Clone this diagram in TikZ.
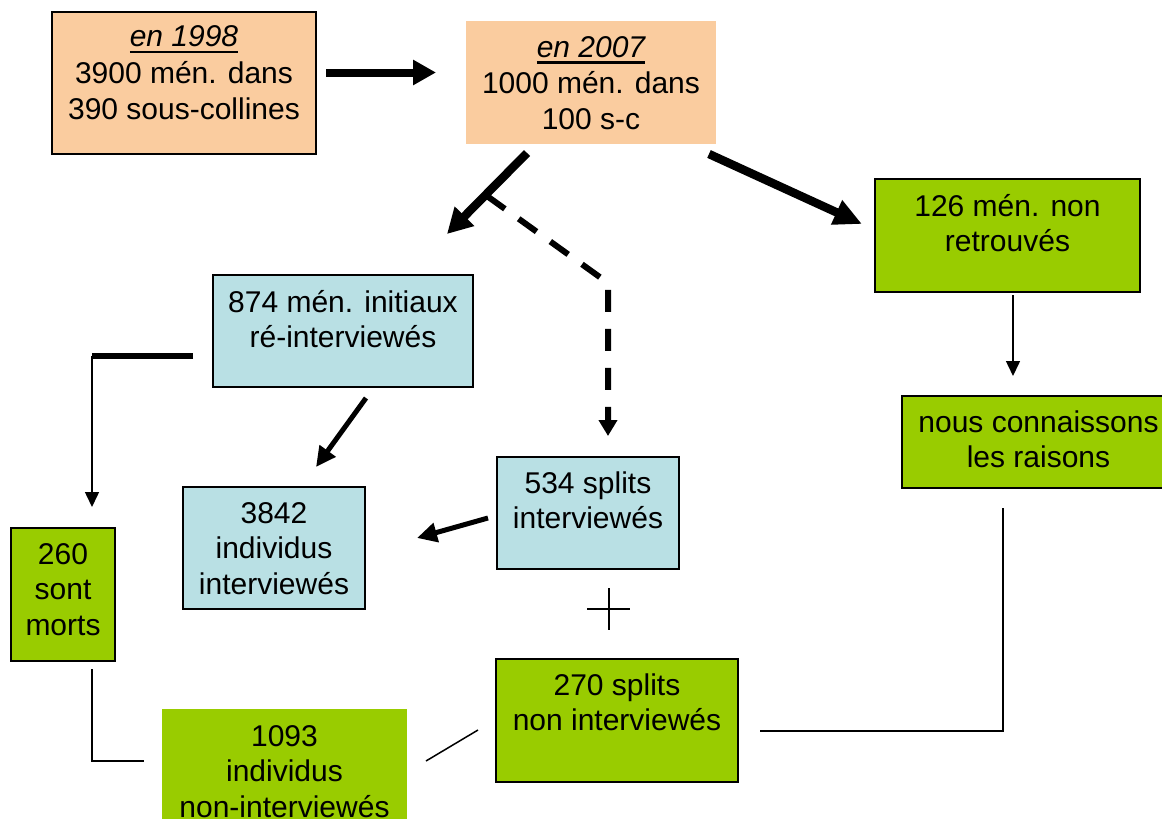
\documentclass[tikz,border=0pt]{standalone}
\usepackage{fontspec}
\setmainfont{Liberation Sans}
\usetikzlibrary{arrows.meta}
\definecolor{peach}{HTML}{FACC9F}
\definecolor{lblue}{HTML}{B9E0E4}
\definecolor{lgreen}{HTML}{99CC00}
\newcommand{\fstrut}{\rule{0pt}{25pt}}
\newcommand{\ulit}[1]{\setbox0\hbox{\itshape #1}\rlap{\rule[-6.5pt]{\wd0}{2.6pt}}\box0}
\begin{document}
\begin{tikzpicture}[x=1pt,y=-1pt,
  boxbase/.style={inner sep=0pt, outer sep=0pt, line width=1.6pt},
  peachbox/.style={boxbase, fill=peach},
  bluebox/.style={boxbase, draw=black, fill=lblue},
  greenbox/.style={boxbase, draw=black, fill=lgreen},
  greenflat/.style={boxbase, fill=lgreen},
  txt/.style={anchor=north, inner sep=0pt, align=center, font=\fontsize{30}{35.5}\selectfont},
  thinline/.style={line width=1.5pt},
  thinarrow/.style={line width=1.5pt, -{Triangle[length=15pt,width=14pt]}},
  medarrow/.style={line width=5pt, -{Triangle[length=20pt,width=19pt]}},
  bigarrow/.style={line width=8.5pt, -{Triangle[length=25pt,width=26pt]}},
  dasharrow/.style={line width=6pt, dash pattern=on 22pt off 17pt, -{Triangle[length=16pt,width=18pt]}}
]
\fill[white] (0,0) rectangle (1162,819);
\useasboundingbox (0,0) rectangle (1162,819);

% boxes
\node[peachbox, draw=black, minimum width=264pt, minimum height=142pt] (b1998) at (184,83) {};
\node[peachbox, minimum width=250pt, minimum height=123pt] (b2007) at (591,82.5) {};
\node[bluebox, minimum width=260pt, minimum height=112pt] (b874) at (343,331) {};
\node[bluebox, minimum width=182pt, minimum height=122pt] (b3842) at (274,548) {};
\node[bluebox, minimum width=182pt, minimum height=112pt] (b534) at (588,513) {};
\node[greenbox, minimum width=104pt, minimum height=133pt] (b260) at (63,594.5) {};
\node[greenflat, minimum width=245pt, minimum height=141pt] (b1093) at (284.5,779.5) {};
\node[greenbox, minimum width=242pt, minimum height=123pt] (b270) at (617,720.5) {};
\node[greenbox, minimum width=265pt, minimum height=113pt] (b126) at (1007.5,235.5) {};
\node[greenbox, minimum width=273pt, minimum height=92pt] (bnous) at (1038.5,442) {};

% texts
\node[txt] (t1998) at (184,21.5) {\fstrut\ulit{en 1998}\\[1pt]3900 mén. dans\\[1pt]390 sous-collines};
\node[txt] (t2007) at (591,32) {\fstrut\ulit{en 2007}\\[0.5pt]1000 mén. dans\\[0.5pt]100 s-c};
\node[txt] (t874) at (343,287) {\fstrut 874 mén. initiaux\\ré-interviewés};
\node[txt] (t3842) at (274,498) {\fstrut 3842\\individus\\interviewés};
\node[txt] (t534) at (588,468) {\fstrut 534 splits\\interviewés};
\node[txt] (t260) at (63,539) {\fstrut 260\\sont\\morts};
\node[txt] (t1093) at (284.5,721) {\fstrut 1093\\individus\\non-interviewés};
\node[txt] (t270) at (617,670) {\fstrut 270 splits\\non interviewés};
\node[txt] (t126) at (1007.5,191) {\fstrut 126 mén. non\\retrouvés};
\node[txt] (tnous) at (1038.5,407) {\fstrut nous connaissons\\les raisons};

% connector end points
\coordinate (a1s) at (326,72.5);   \coordinate (a1e) at (436,72.5);
\coordinate (a2s) at (527,153);    \coordinate (a2e) at (447,234);
\coordinate (a3s) at (709,154);    \coordinate (a3e) at (862,224);
\coordinate (d1) at (487,196);     \coordinate (d2) at (608,283);  \coordinate (d3) at (608,436);
\coordinate (a4s) at (366,398);    \coordinate (a4e) at (316,467);
\coordinate (a5s) at (488,518);    \coordinate (a5e) at (417,538);
\coordinate (l1a) at (193,356);    \coordinate (l1b) at (92,356);  \coordinate (l1c) at (92,507);
\coordinate (a6s) at (1013,295);   \coordinate (a6e) at (1013,376);
\coordinate (ph1) at (587,609);    \coordinate (ph2) at (630,609);
\coordinate (pv1) at (609,588);    \coordinate (pv2) at (609,630);
\coordinate (m1) at (92,669);      \coordinate (m2) at (92,761);   \coordinate (m3) at (144,761);
\coordinate (g1) at (426,761);     \coordinate (g2) at (478,730);
\coordinate (r1) at (760,731);     \coordinate (r2) at (1003,731); \coordinate (r3) at (1003,508);

% connectors
\draw[bigarrow, line width=8pt, -{Triangle[length=23pt,width=24pt]}] (a1s) -- (a1e);
\draw[bigarrow] (a2s) -- (a2e);
\draw[bigarrow, -{Triangle[length=28pt,width=25pt]}] (a3s) -- (a3e);
\draw[dasharrow] (d1) -- (d2) -- (d3);
\draw[medarrow] (a4s) -- (a4e);
\draw[medarrow] (a5s) -- (a5e);
\draw[line width=6pt] (l1a) -- (l1b);
\draw[thinarrow] (l1b) -- (l1c);
\draw[thinarrow] (a6s) -- (a6e);
\draw[thinline] (ph1) -- (ph2);
\draw[thinline] (pv1) -- (pv2);
\draw[thinline] (m1) -- (m2) -- (m3);
\draw[thinline] (g1) -- (g2);
\draw[thinline] (r1) -- (r2) -- (r3);
\end{tikzpicture}
\end{document}
